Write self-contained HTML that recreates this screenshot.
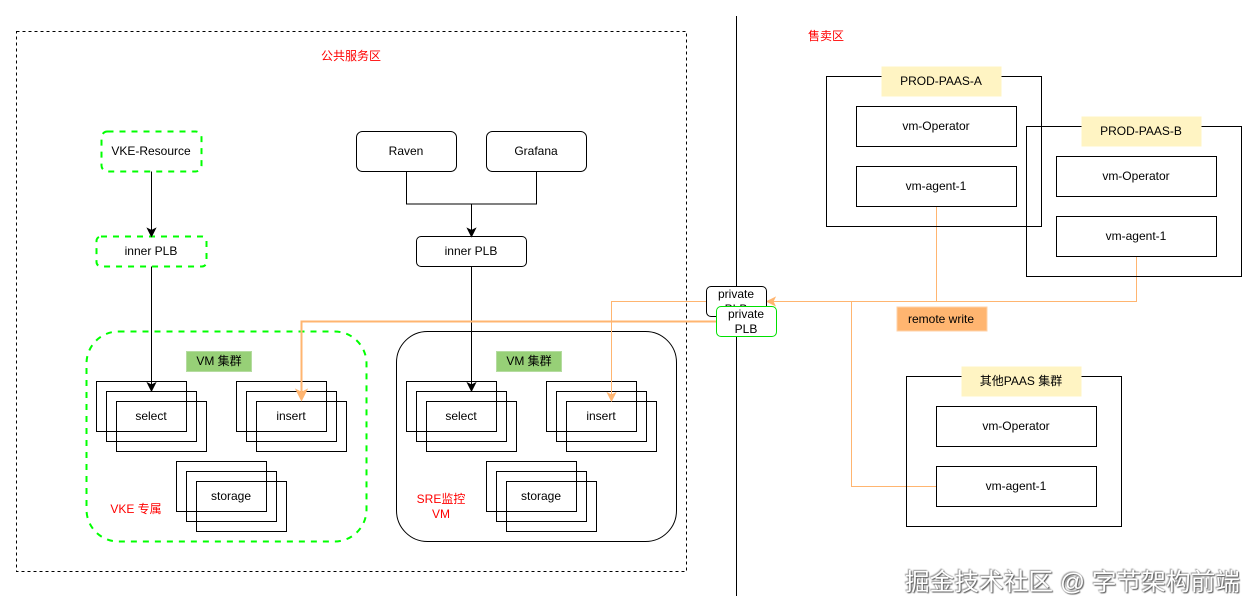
<!DOCTYPE html>
<html><head><meta charset="utf-8">
<style>
html,body{margin:0;padding:0;background:#fff;width:1258px;height:614px;overflow:hidden}
svg{display:block}
text{font-family:"Liberation Sans","Noto Sans CJK SC",sans-serif;font-size:12px;fill:#000;text-anchor:middle}
.r{fill:#ff0000}
.b{fill:none;stroke:#000;stroke-width:1}
.g{fill:none;stroke:#00ff00;stroke-width:2;stroke-dasharray:6 6}
.o{fill:none;stroke:#ffb570;stroke-width:1}
</style></head><body>
<svg width="1258" height="614" viewBox="0 0 1258 614" xmlns="http://www.w3.org/2000/svg">
<defs>
<g id="stack">
<rect class="b" x="0" y="0" width="90" height="50"/>
<rect class="b" x="10" y="10" width="90" height="50"/>
<rect class="b" x="20" y="20" width="90" height="50"/>
</g>
</defs>

<rect x="16.5" y="31.5" width="670" height="540" fill="none" stroke="#000" stroke-dasharray="3 3"/>
<line x1="736.5" y1="16" x2="736.5" y2="596" stroke="#000"/>
<text class="r" x="351" y="60">公共服务区</text>
<text class="r" x="826" y="40">售卖区</text>

<!-- left top -->
<rect class="g" x="101.5" y="131.5" width="100" height="40" rx="6"/>
<text x="151" y="155">VKE-Resource</text>
<rect class="g" x="96.5" y="236.5" width="110" height="30" rx="4.5"/>
<text x="151" y="255">inner PLB</text>
<path class="b" d="M151.5 171.5V231"/>
<path d="M151.5 236.5l-4-8 4 2 4-2z" fill="#000" stroke="#000"/>
<path class="b" d="M151.5 266.5V385"/>
<path d="M151.5 391l-4-8 4 2 4-2z" fill="#000" stroke="#000"/>

<!-- middle top -->
<rect class="b" x="356.5" y="131.5" width="100" height="40" rx="6"/>
<text x="406" y="155">Raven</text>
<rect class="b" x="486.5" y="131.5" width="100" height="40" rx="6"/>
<text x="536" y="155">Grafana</text>
<path class="b" d="M406.5 171.5V204H536.5V171.5"/>
<path class="b" d="M471.5 204V231"/>
<path d="M471.5 236.5l-4-8 4 2 4-2z" fill="#000" stroke="#000"/>
<rect class="b" x="416.5" y="236.5" width="110" height="30" rx="4.5"/>
<text x="471" y="255">inner PLB</text>
<path class="b" d="M471.5 266.5V385"/>
<path d="M471.5 391l-4-8 4 2 4-2z" fill="#000" stroke="#000"/>

<!-- VKE group -->
<rect class="g" x="86.5" y="331.5" width="280" height="210" rx="32"/>
<rect x="186.5" y="351.5" width="65" height="20" fill="#97d077" stroke="#b5dca0"/>
<text x="219" y="365">VM 集群</text>
<use href="#stack" x="96.5" y="381.5"/>
<text x="151" y="420">select</text>
<use href="#stack" x="236.5" y="381.5"/>
<text x="291" y="420">insert</text>
<use href="#stack" x="176.5" y="461.5"/>
<text x="231" y="500">storage</text>
<text class="r" x="136" y="513">VKE 专属</text>

<!-- SRE group -->
<rect class="b" x="396.5" y="331.5" width="280" height="210" rx="31"/>
<rect x="496.5" y="351.5" width="65" height="20" fill="#97d077" stroke="#b5dca0"/>
<text x="529" y="365">VM 集群</text>
<use href="#stack" x="406.5" y="381.5"/>
<text x="461" y="420">select</text>
<use href="#stack" x="546.5" y="381.5"/>
<text x="601" y="420">insert</text>
<use href="#stack" x="486.5" y="461.5"/>
<text x="541" y="500">storage</text>
<text class="r" x="441" y="503">SRE监控</text>
<text class="r" x="441" y="518">VM</text>

<!-- orange connectors -->
<path class="o" d="M936.5 206.5V301.5H773"/>
<path class="o" d="M1136.5 256.5V301.5H936"/>
<path class="o" d="M936.5 486.5H851.5V301.5"/>
<path d="M767 301.5l8-4-2 4 2 4z" fill="#ffb570" stroke="#ffb570"/>
<path class="o" d="M706.5 301.5H611.5V395"/>
<path d="M611.5 401l-4-8 4 2 4-2z" fill="#ffb570" stroke="#ffb570"/>
<path d="M716.5 321.5H301.5V394" fill="none" stroke="#ffb570" stroke-width="2"/>
<path d="M301.5 400.5l-5.5-11 5.500 2.800 5.500-2.800z" fill="#ffb570" stroke="#ffb570"/>

<!-- private PLB -->
<rect x="706.500" y="286.500" width="60" height="30" rx="4.500" fill="#fff" stroke="#000"/>
<text x="736" y="298">private</text>
<text x="736" y="313">PLB</text>
<rect x="716.500" y="306.500" width="60" height="30" rx="4.500" fill="#fff" stroke="#00e000"/>
<text x="746" y="318">private</text>
<text x="746" y="333">PLB</text>

<rect x="897" y="307" width="90" height="24" fill="#ffb570" stroke="#ffd2a8"/>
<text x="941" y="323">remote write</text>

<!-- PROD A -->
<rect class="b" x="826.500" y="76.500" width="215" height="150"/>
<rect x="881.500" y="66.500" width="120" height="30" fill="#fff4c3"/>
<text x="941" y="85">PROD-PAAS-A</text>
<rect class="b" x="856.500" y="106.500" width="160" height="40"/>
<text x="936" y="130">vm-Operator</text>
<rect class="b" x="856.500" y="166.500" width="160" height="40"/>
<text x="936" y="190">vm-agent-1</text>

<!-- PROD B -->
<rect class="b" x="1026.500" y="126.500" width="215" height="150"/>
<rect x="1081.500" y="116.500" width="120" height="30" fill="#fff4c3"/>
<text x="1141" y="135">PROD-PAAS-B</text>
<rect class="b" x="1056.500" y="156.500" width="160" height="40"/>
<text x="1136" y="180">vm-Operator</text>
<rect class="b" x="1056.500" y="216.500" width="160" height="40"/>
<text x="1136" y="240">vm-agent-1</text>

<!-- Other -->
<rect class="b" x="906.500" y="376.500" width="215" height="150"/>
<rect x="961.500" y="366.500" width="120" height="30" fill="#fff4c3"/>
<text x="1021" y="385">其他PAAS 集群</text>
<rect class="b" x="936.500" y="406.500" width="160" height="40"/>
<text x="1016" y="430">vm-Operator</text>
<rect class="b" x="936.500" y="466.500" width="160" height="40"/>
<text x="1016" y="490">vm-agent-1</text>

<!-- watermark -->
<text x="905" y="590" textLength="335" lengthAdjust="spacingAndGlyphs" style="font-size:24px;text-anchor:start;fill:#fff;paint-order:normal;filter:drop-shadow(1px 1px 0.6px #555) drop-shadow(-0.4px -0.4px 0.4px #999)">掘金技术社区 @ 字节架构前端</text>
</svg>
</body></html>
